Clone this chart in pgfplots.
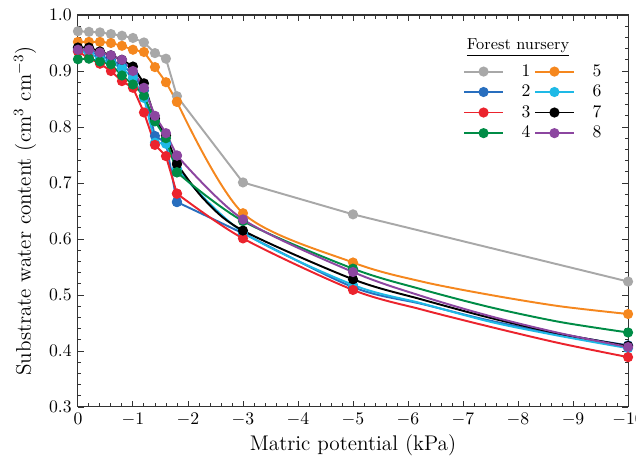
\documentclass[border=0pt]{standalone}
\usepackage{pgfplots}
\pgfplotsset{compat=1.18}
\definecolor{cGray}{RGB}{168,168,168}
\definecolor{cOrange}{RGB}{245,135,30}
\definecolor{cBlue}{RGB}{40,110,190}
\definecolor{cRed}{RGB}{235,35,45}
\definecolor{cGreen}{RGB}{0,140,70}
\definecolor{cCyan}{RGB}{30,185,230}
\definecolor{cPurple}{RGB}{140,70,160}
\begin{document}
\begin{tikzpicture}
\begin{axis}[
  scale only axis,
  width=311.3pt, height=221.8pt,
  x dir=reverse,
  xmin=-10, xmax=0, ymin=0.3, ymax=1.0,
  xtick={-10,-9,...,0},
  ytick={0.3,0.4,...,1.0},
  minor x tick num=4, minor y tick num=4,
  major tick length=3.5pt, minor tick length=2pt,
  tick align=inside,
  axis line style={black!80, line width=0.6pt},
  every tick/.style={black!80, line width=0.5pt},
  yticklabel style={/pgf/number format/.cd, fixed, fixed zerofill, precision=1},
  ticklabel style={font=\normalsize},
  xlabel={Matric potential (kPa)},
  ylabel={Substrate water content (cm$^3$ cm$^{-3}$)},
  label style={font=\large},
  xlabel style={at={(axis description cs:0.5,-0.097)}, anchor=center},
  ylabel style={at={(axis description cs:-0.096,0.5)}, anchor=center},
  every axis plot/.append style={line width=1.1pt, mark=*, mark size=2.3pt},
  legend style={at={(0.69,0.893)}, anchor=north west, draw=none, fill=none,
    font=\normalsize, row sep=-0.6pt,
    /tikz/every odd column/.append style={column sep=8pt}},
  legend columns=2,
  legend cell align=left,
  legend image code/.code={\draw[mark repeat=2,mark phase=2] plot coordinates {(0pt,0pt) (11pt,0pt) (22pt,0pt)};},
]
% ---- series 1 (straight segments)
\addplot[color=cGray, mark options={fill=cGray}] coordinates {
 (0,0.971) (-0.2,0.970) (-0.4,0.969) (-0.6,0.966) (-0.8,0.963) (-1.0,0.959) (-1.2,0.951) (-1.4,0.932) (-1.6,0.922) (-1.8,0.855) (-3,0.701) (-5,0.644) (-10,0.524)};
\addlegendentry{1}
% ---- series 5
\addplot[color=cOrange, mark options={fill=cOrange}] coordinates {
 (0,0.952) (-0.2,0.952) (-0.4,0.952) (-0.6,0.950) (-0.8,0.945) (-1.0,0.938) (-1.2,0.934) (-1.4,0.907) (-1.6,0.880) (-1.8,0.845)};
\addlegendentry{5}
\addplot[color=cOrange, mark options={fill=cOrange}, smooth, forget plot, mark indices={1,2,3,7}] coordinates {
 (-1.8,0.845) (-3,0.646) (-5,0.558) (-6.25,0.524) (-7.5,0.500) (-8.75,0.480) (-10,0.466)};
% ---- series 2
\addplot[color=cBlue, mark options={fill=cBlue}] coordinates {
 (0,0.941) (-0.2,0.935) (-0.4,0.928) (-0.6,0.920) (-0.8,0.910) (-1.0,0.895) (-1.2,0.865) (-1.4,0.784) (-1.6,0.772) (-1.8,0.666)};
\addlegendentry{2}
\addplot[color=cBlue, mark options={fill=cBlue}, smooth, forget plot, mark indices={1,2,3,7}] coordinates {
 (-1.8,0.666) (-3,0.610) (-5,0.514) (-6.25,0.484) (-7.5,0.454) (-8.75,0.430) (-10,0.410)};
% ---- series 6
\addplot[color=cCyan, mark options={fill=cCyan}] coordinates {
 (0,0.936) (-0.2,0.932) (-0.4,0.922) (-0.6,0.915) (-0.8,0.905) (-1.0,0.888) (-1.2,0.852) (-1.4,0.772) (-1.6,0.770) (-1.8,0.725)};
\addlegendentry{6}
\addplot[color=cCyan, mark options={fill=cCyan}, smooth, forget plot, mark indices={1,2,3,7}] coordinates {
 (-1.8,0.725) (-3,0.612) (-5,0.518) (-6.25,0.485) (-7.5,0.452) (-8.75,0.427) (-10,0.405)};
% ---- series 3
\addplot[color=cRed, mark options={fill=cRed}] coordinates {
 (0,0.935) (-0.2,0.923) (-0.4,0.913) (-0.6,0.900) (-0.8,0.882) (-1.0,0.870) (-1.2,0.826) (-1.4,0.768) (-1.6,0.748) (-1.8,0.681)};
\addlegendentry{3}
\addplot[color=cRed, mark options={fill=cRed}, smooth, forget plot, mark indices={1,2,3,7}] coordinates {
 (-1.8,0.681) (-3,0.601) (-5,0.509) (-6.25,0.474) (-7.5,0.443) (-8.75,0.414) (-10,0.389)};
% ---- series 7
\addplot[color=black, mark options={fill=black}] coordinates {
 (0,0.942) (-0.2,0.942) (-0.4,0.935) (-0.6,0.928) (-0.8,0.920) (-1.0,0.908) (-1.2,0.878) (-1.4,0.815) (-1.6,0.785) (-1.8,0.734)};
\addlegendentry{7}
\addplot[color=black, mark options={fill=black}, smooth, forget plot, mark indices={1,3,4,8}] coordinates {
 (-1.8,0.734) (-2.3,0.670) (-3,0.615) (-5,0.528) (-6.25,0.492) (-7.5,0.459) (-8.75,0.431) (-10,0.409)};
% ---- series 4
\addplot[color=cGreen, mark options={fill=cGreen}] coordinates {
 (0,0.921) (-0.2,0.922) (-0.4,0.917) (-0.6,0.912) (-0.8,0.892) (-1.0,0.876) (-1.2,0.856) (-1.4,0.810) (-1.6,0.780) (-1.8,0.719)};
\addlegendentry{4}
\addplot[color=cGreen, mark options={fill=cGreen}, smooth, forget plot, mark indices={1,2,3,7}] coordinates {
 (-1.8,0.719) (-3,0.632) (-5,0.547) (-6.25,0.510) (-7.5,0.478) (-8.75,0.452) (-10,0.433)};
% ---- series 8
\addplot[color=cPurple, mark options={fill=cPurple}] coordinates {
 (0,0.938) (-0.2,0.938) (-0.4,0.933) (-0.6,0.928) (-0.8,0.920) (-1.0,0.900) (-1.2,0.870) (-1.4,0.820) (-1.6,0.789) (-1.8,0.749)};
\addlegendentry{8}
\addplot[color=cPurple, mark options={fill=cPurple}, smooth, forget plot, mark indices={1,2,3,7}] coordinates {
 (-1.8,0.749) (-3,0.635) (-5,0.541) (-6.25,0.498) (-7.5,0.462) (-8.75,0.432) (-10,0.407)};
\node[font=\small] at (axis description cs:0.80,0.918) {\underline{Forest nursery}};
\end{axis}
\pgfresetboundingbox
\path[use as bounding box] ([xshift=-44.1pt,yshift=-35.1pt]current axis.south west) rectangle ([xshift=4.5pt,yshift=8.5pt]current axis.north east);
\end{tikzpicture}
\end{document}
